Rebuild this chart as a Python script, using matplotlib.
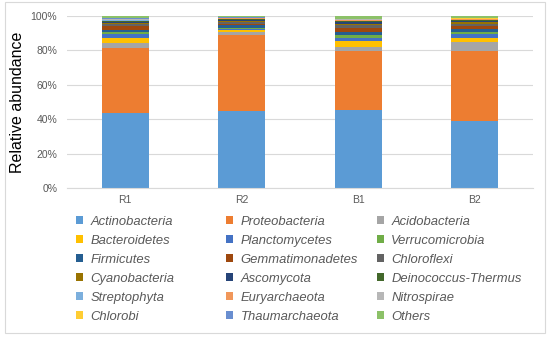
import matplotlib.pyplot as plt
from matplotlib.patches import Rectangle
from matplotlib.ticker import PercentFormatter

samples = ["R1", "R2", "B1", "B2"]

phyla = [
    "Actinobacteria", "Proteobacteria", "Acidobacteria",
    "Bacteroidetes", "Planctomycetes", "Verrucomicrobia",
    "Firmicutes", "Gemmatimonadetes", "Chloroflexi",
    "Cyanobacteria", "Ascomycota", "Deinococcus-Thermus",
    "Streptophyta", "Euryarchaeota", "Nitrospirae",
    "Chlorobi", "Thaumarchaeota", "Others",
]

# relative abundance (%) for R1, R2, B1, B2
actinobacteria = [43.8, 44.8, 45.2, 38.8]
proteobacteria = [37.9, 44.2, 34.5, 40.9]
acidobacteria = [2.9, 1.5, 2.5, 5.0]
bacteroidetes = [2.8, 1.4, 3.0, 2.5]
planctomycetes = [2.2, 0.6, 1.8, 2.2]
verrucomicrobia = [1.3, 0.5, 1.7, 1.4]
firmicutes = [1.2, 1.5, 1.8, 1.6]
gemmatimonadetes = [2.0, 0.9, 2.3, 1.6]
chloroflexi = [1.5, 1.2, 1.8, 1.5]
cyanobacteria = [0.6, 0.5, 0.8, 0.8]
ascomycota = [0.5, 0.8, 0.9, 0.7]
deinococcus = [0.5, 0.4, 0.7, 0.4]
streptophyta = [0.3, 0.2, 0.2, 0.3]
euryarchaeota = [0.3, 0.2, 0.3, 0.4]
nitrospirae = [0.4, 0.2, 0.5, 0.3]
chlorobi = [0.2, 0.1, 0.2, 0.2]
thaumarchaeota = [0.3, 0.2, 0.3, 0.2]
others = [1.3, 0.8, 1.5, 1.2]

series = [
    actinobacteria, proteobacteria, acidobacteria,
    bacteroidetes, planctomycetes, verrucomicrobia,
    firmicutes, gemmatimonadetes, chloroflexi,
    cyanobacteria, ascomycota, deinococcus,
    streptophyta, euryarchaeota, nitrospirae,
    chlorobi, thaumarchaeota, others,
]

colors = [
    "#5B9BD5", "#ED7D31", "#A5A5A5",
    "#FFC000", "#4472C4", "#70AD47",
    "#255E91", "#9E480E", "#636363",
    "#997300", "#264478", "#43682B",
    "#7CAFDD", "#F1975A", "#B7B7B7",
    "#FFCD33", "#698ED0", "#8CC168",
]

plt.rcParams["font.family"] = ["Liberation Sans", "DejaVu Sans"]
GRAY = "#595959"
GRID = "#D9D9D9"
W, H = 550, 338

fig = plt.figure(figsize=(W / 100, H / 100), dpi=100)
ax = fig.add_axes([67 / W, 1 - 188.2 / H, 466 / W, 172.2 / H])

x = range(len(samples))
bottom = [0.0] * len(samples)
handles = []
for name, vals, c in zip(phyla, series, colors):
    h = ax.bar(x, vals, bottom=bottom, width=0.405, color=c, linewidth=0, label=name)
    handles.append(h)
    bottom = [b + v for b, v in zip(bottom, vals)]

ax.set_xlim(-0.5, len(samples) - 0.5)
ax.set_ylim(0, 100)
ax.set_yticks(range(0, 101, 20))
ax.yaxis.set_major_formatter(PercentFormatter(decimals=0))
ax.set_xticks(list(x))
ax.set_xticklabels(samples)
ax.tick_params(length=0, labelsize=7.5, labelcolor=GRAY)
ax.tick_params(axis="y", pad=7)
ax.tick_params(axis="x", pad=5)
ax.grid(axis="y", color=GRID, linewidth=0.8)
ax.set_axisbelow(True)
for s in ["top", "right", "left"]:
    ax.spines[s].set_visible(False)
ax.spines["bottom"].set_color(GRID)
ax.set_ylabel("Relative abundance", fontsize=11.5, color="black")
ax.yaxis.set_label_coords(25 / W, 1 - 102 / H, transform=fig.transFigure)

# legend: three equal-width columns, filled row by row
col_x = [76, 226, 377]
for c, cx in enumerate(col_x):
    idx = list(range(c, len(handles), 3))
    leg = fig.legend(
        [handles[i] for i in idx], [phyla[i] for i in idx],
        ncol=1, loc="upper left", bbox_to_anchor=(cx / W, 1 - 216 / H),
        frameon=False, fontsize=9.4, handlelength=0.55, handleheight=0.55,
        handletextpad=0.55, labelspacing=0.53, borderaxespad=0, borderpad=0,
    )
    for t in leg.get_texts():
        t.set_color(GRAY)
        t.set_fontstyle("italic")

fig.patches.append(Rectangle((5 / W, 5 / H), 540 / W, 331 / H, transform=fig.transFigure,
                             fill=False, edgecolor=GRID, linewidth=0.8))

fig.savefig("out.png", dpi=100)
